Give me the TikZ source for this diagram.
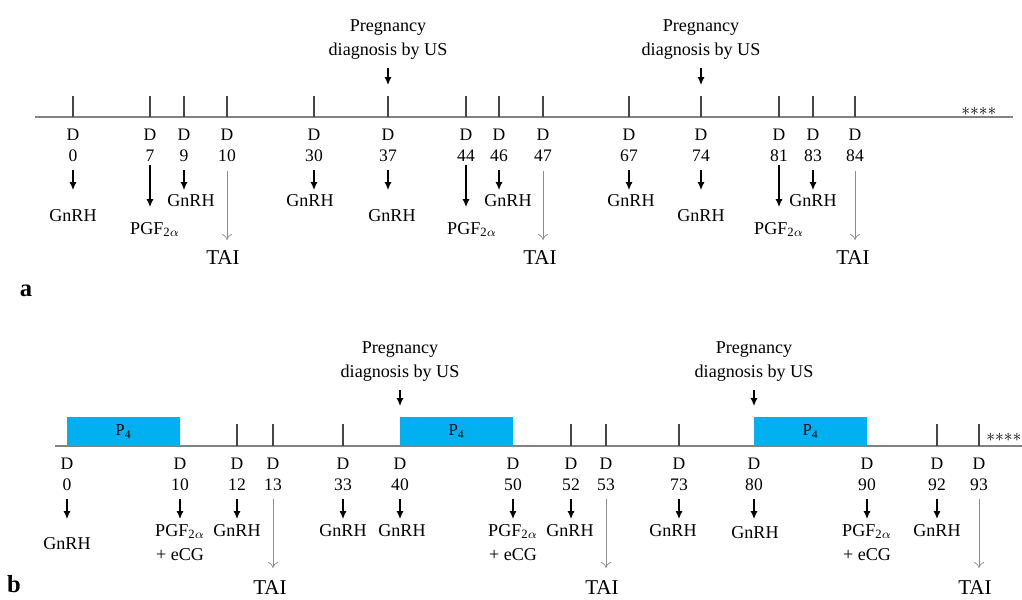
\documentclass[tikz,border=0pt]{standalone}
\usepackage{fontspec}
\setmainfont{Liberation Serif}
\usetikzlibrary{arrows.meta}
\definecolor{axisgray}{RGB}{130,130,130}
\definecolor{tickgray}{RGB}{70,70,70}
\definecolor{taigray}{RGB}{140,140,140}
\definecolor{ptblue}{RGB}{0,176,240}
\tikzset{
  daylbl/.style={font=\fontsize{10}{12}\selectfont, align=center, inner sep=0pt, anchor=north},
  drug/.style={font=\fontsize{10.3}{13.6}\selectfont, align=center, inner sep=0pt, anchor=north},
  tailbl/.style={font=\fontsize{12}{14}\selectfont, inner sep=0pt, anchor=north},
  panel/.style={font=\fontsize{14}{16}\selectfont\bfseries, inner sep=0pt, anchor=base},
  stars/.style={font=\fontsize{10}{12}\selectfont, inner sep=0pt, anchor=base west},
  axis/.style={draw=axisgray, line width=0.6pt},
  tick/.style={draw=tickgray, line width=0.6pt},
  dose/.style={-{Latex[length=4.5pt,width=4pt]}, line width=0.7pt},
  insem/.style={-{To[length=3.5pt,width=6pt]}, draw=taigray, line width=0.4pt},
  pbox/.style={fill=ptblue, draw=none}
}
\newcommand{\fourstars}{${*}{*}{*}{*}$}
\begin{document}
\begin{tikzpicture}[x=0.02cm, y=-0.02cm]
\useasboundingbox (0,0) rectangle (1022,599);

% ---------------- panel a ----------------
\draw[axis] (35,117) -- (1013,117);
\node[stars] (stara) at (961,115.5) {\fourstars};
\node[panel] (pa) at (26,296) {a};

% days on the line
\foreach \x/\n in {73/0,150/7,184/9,227/10,314/30,388/37,466/44,499/46,543/47,629/67,701/74,779/81,813/83,855/84} {
  \draw[tick] (\x,96) -- (\x,117);
  \node[daylbl] (a\n) at (\x,129) {D\\\n};
}

% GnRH
\foreach \n/\lx/\ly in {0/73/209,9/191/194,30/310/194,37/392/209,46/508/194,67/631/194,74/701/209,83/813/194} {
  \coordinate (ta\n) at (a\n.south |- 0,190);
  \draw[dose, shorten <=0.16cm] (a\n) -- (ta\n);
  \node[drug] (ga\n) at (\lx,\ly) {GnRH};
}

% PGF
\foreach \n/\lx in {7/155,44/472,81/779} {
  \coordinate (ta\n) at (a\n.south |- 0,207);
  \draw[dose, shorten <=0.05cm] (a\n) -- (ta\n);
  \node[drug] (ga\n) at (\lx,222) {PGF\textsubscript{2$\alpha$}};
}

% TAI
\foreach \n/\lx in {10/223,47/540,84/853} {
  \coordinate (ta\n) at (a\n.south |- 0,240);
  \draw[insem, shorten <=0.18cm] (a\n) -- (ta\n);
  \node[tailbl] (ia\n) at (\lx,250) {TAI};
}

% pregnancy diagnosis
\foreach \x/\n in {388/37,701/74} {
  \node[drug] (usa\n) at (\x,19) {Pregnancy\\diagnosis by US};
  \coordinate (ua\n) at (usa\n.south |- 0,85);
  \draw[dose, shorten <=0.18cm] (usa\n) -- (ua\n);
}

% ---------------- panel b ----------------
\draw[axis] (55,446) -- (1022,446);
\node[stars] (starb) at (986,441.5) {\fourstars};
\node[panel] (pb) at (14,592) {b};

% P4 devices
\draw[pbox] (67,417) rectangle (180,446) node[pos=.5, font=\fontsize{9.5}{11}\selectfont] (p4a) {P\textsubscript{4}};
\draw[pbox] (400,417) rectangle (513,446) node[pos=.5, font=\fontsize{9.5}{11}\selectfont] (p4b) {P\textsubscript{4}};
\draw[pbox] (754,417) rectangle (867,446) node[pos=.5, font=\fontsize{9.5}{11}\selectfont] (p4c) {P\textsubscript{4}};

% days on the line
\foreach \x in {237,273,343,571,606,679,937,979} {
  \draw[tick] (\x,424) -- (\x,446);
}
\foreach \x/\n in {67/0,180/10,237/12,273/13,343/33,400/40,513/50,571/52,606/53,679/73,754/80,867/90,937/92,979/93} {
  \node[daylbl] (b\n) at (\x,458) {D\\\n};
}

% GnRH
\foreach \n/\lx/\ly in {0/67/537,12/237/524,33/343/524,40/402/524,52/570/524,73/673/524,80/755/526,92/937/524} {
  \coordinate (tb\n) at (b\n.south |- 0,519);
  \draw[dose, shorten <=0.15cm] (b\n) -- (tb\n);
  \node[drug] (gb\n) at (\lx,\ly) {GnRH};
}

% PGF + eCG
\foreach \n in {10,50,90} {
  \coordinate (tb\n) at (b\n.south |- 0,519);
  \draw[dose, shorten <=0.15cm] (b\n) -- (tb\n);
  \node[drug] (gb\n) at (b\n |- 0,524) {PGF\textsubscript{2$\alpha$}\\+ eCG};
}

% TAI
\foreach \n/\lx in {13/270,53/602,93/975} {
  \coordinate (tb\n) at (b\n.south |- 0,568);
  \draw[insem, shorten <=0.15cm] (b\n) -- (tb\n);
  \node[tailbl] (ib\n) at (\lx,580) {TAI};
}

% pregnancy diagnosis
\foreach \x/\n in {400/40,754/80} {
  \node[drug] (usb\n) at (\x,341) {Pregnancy\\diagnosis by US};
  \coordinate (ub\n) at (usb\n.south |- 0,406);
  \draw[dose, shorten <=0.18cm] (usb\n) -- (ub\n);
}

\end{tikzpicture}
\end{document}
